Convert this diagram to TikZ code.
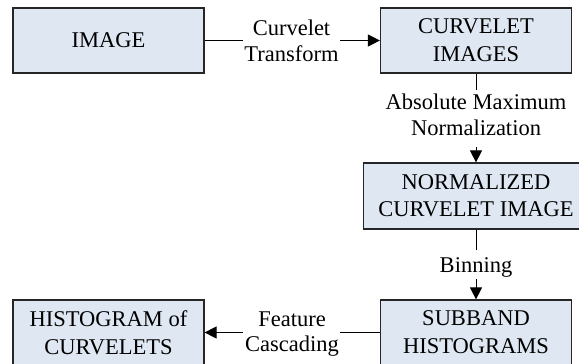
\documentclass[tikz,border=0pt]{standalone}
\usepackage{fontspec}
\setmainfont{Liberation Serif}
\usetikzlibrary{arrows.meta}
\definecolor{boxfill}{RGB}{222,231,242}
\begin{document}
\begin{tikzpicture}[x=1pt,y=-1pt,
  box/.style={draw=black!85,line width=1.2pt,fill=boxfill,minimum width=191pt,minimum height=65pt,inner sep=0pt,align=center,font=\fontsize{22.5}{28}\selectfont},
  lbl/.style={align=center,inner sep=0pt,font=\fontsize{22.5}{25.5}\selectfont},
  conn/.style={line width=1pt,black},
  arr/.style={conn,-{Triangle[length=12pt,width=12pt]}}]
\useasboundingbox (0,0) rectangle (579,364);
% boxes
\node[box] (img) at (108.5,40.5) {IMAGE};
\node[box] (cimg) at (476,40.5) {CURVELET\\IMAGES};
\node[box,minimum width=225pt,minimum height=66pt,font=\fontsize{22.5}{27}\selectfont] (norm) at (476,196) {NORMALIZED\\CURVELET IMAGE};
\node[box] (sub) at (476,332.5) {SUBBAND\\HISTOGRAMS};
\node[box] (hist) at (108.5,332.5) {HISTOGRAM of\\CURVELETS};
% labels
\node[lbl] (l1) at (291.5,41) {Curvelet\\Transform};
\node[lbl] (l2) at (476,115) {Absolute Maximum\\Normalization};
\node[lbl] (l3) at (476,267) {Binning};
\node[lbl] (l4) at (292,334) {Feature\\Cascading};
% connector ends
\coordinate (a1) at (243,40.5);
\coordinate (a2) at (340,40.5);
\coordinate (b1) at (476,90);
\coordinate (b2) at (476,147);
\coordinate (c1) at (476,250);
\coordinate (c2) at (476,279);
\coordinate (d1) at (340,332.5);
\coordinate (d2) at (243,332.5);
% connectors
\draw[conn] (img.east) -- (a1);
\draw[arr] (a2) -- (cimg.west);
\draw[conn] (cimg.south) -- (b1);
\draw[arr] (b2) -- (norm.north);
\draw[conn] (norm.south) -- (c1);
\draw[arr] (c2) -- (sub.north);
\draw[conn] (sub.west) -- (d1);
\draw[arr] (d2) -- (hist.east);
\end{tikzpicture}
\end{document}
